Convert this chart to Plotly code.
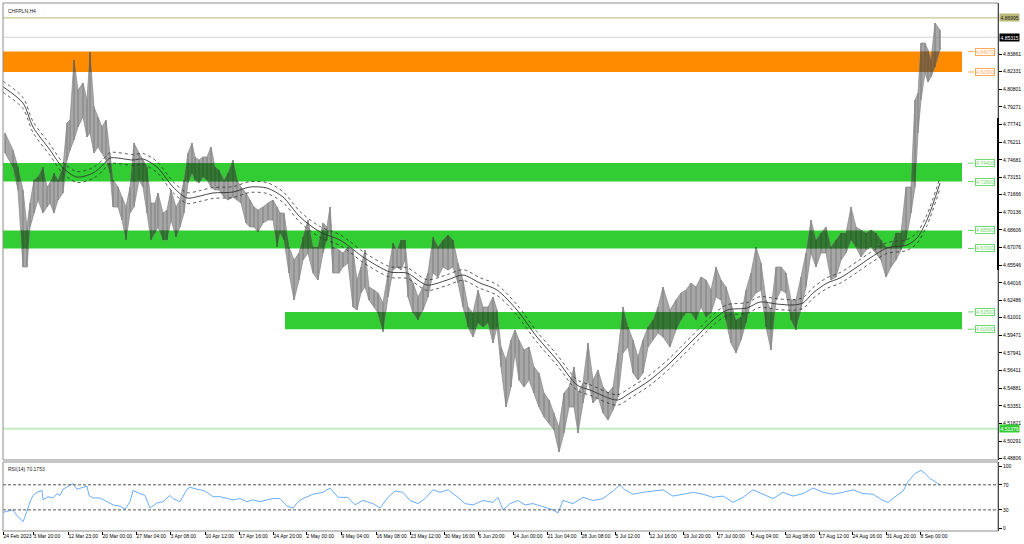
import plotly.graph_objects as go

# ---------------- DATA ----------------
symbol_title = "CHFPLN,H4"

# H4 bar index (approx. 1 bar per screen pixel) and high / low per sampled bar
bars = [2, 10, 15, 20, 24, 27, 31, 35, 40, 44,
        47, 51, 55, 60, 64, 67, 71, 75, 80, 84,
        87, 91, 95, 99, 103, 107, 110, 115, 119, 123,
        127, 131, 136, 140, 144, 148, 152, 155, 160, 164,
        168, 173, 177, 181, 185, 189, 192, 196, 200, 204,
        208, 212, 216, 221, 225, 230, 234, 238, 243, 247,
        251, 255, 260, 265, 270, 274, 277, 281, 286, 291,
        296, 300, 305, 310, 315, 320, 324, 327, 330, 336,
        340, 345, 350, 354, 358, 362, 366, 371, 375, 380,
        385, 390, 394, 398, 402, 405, 410, 415, 420, 425,
        430, 435, 440, 445, 450, 455, 460, 465, 470, 475,
        480, 485, 490, 494, 498, 503, 508, 512, 516, 521,
        526, 531, 536, 541, 546, 551, 556, 561, 566, 571,
        575, 580, 585, 590, 595, 600, 605, 610, 615, 620,
        625, 630, 635, 640, 645, 650, 655, 660, 667, 673,
        678, 683, 688, 693, 698, 703, 708, 713, 718, 723,
        728, 733, 738, 743, 748, 753, 758, 763, 768, 773,
        778, 783, 788, 793, 798, 803, 808, 813, 818, 823,
        828, 833, 838, 843, 848, 853, 858, 863, 868, 873,
        878, 883, 888, 893, 898, 903, 908, 912, 915, 918,
        922, 925, 928, 932, 937]

highs = [4.7701, 4.7554, 4.7406, 4.7207, 4.6886, 4.7094, 4.7293, 4.7319, 4.7406, 4.7233,
         4.7267, 4.7354, 4.7293, 4.7406, 4.7788, 4.7814, 4.8334, 4.8074, 4.8134, 4.7987,
         4.8403, 4.7926, 4.7840, 4.7753, 4.7814, 4.7528, 4.7293, 4.7233, 4.7146, 4.7059,
         4.7233, 4.7614, 4.7528, 4.7467, 4.7406, 4.7094, 4.7094, 4.7181, 4.7007, 4.7033,
         4.7207, 4.7059, 4.7120, 4.7293, 4.7528, 4.7614, 4.7493, 4.7467, 4.7493, 4.7493,
         4.7580, 4.7406, 4.7380, 4.7293, 4.7354, 4.7467, 4.7293, 4.7233, 4.7181, 4.7120,
         4.7059, 4.7033, 4.7059, 4.7094, 4.7120, 4.7059, 4.7007, 4.7007, 4.6713, 4.6600,
         4.6661, 4.6799, 4.6947, 4.6713, 4.6713, 4.6921, 4.6886, 4.7059, 4.6713, 4.6687,
         4.6661, 4.6713, 4.6687, 4.6426, 4.6539, 4.6687, 4.6366, 4.6340, 4.6314, 4.6227,
         4.6487, 4.6747, 4.6687, 4.6773, 4.6773, 4.6487, 4.6400, 4.6279, 4.6366, 4.6487,
         4.6799, 4.6713, 4.6773, 4.6817, 4.6773, 4.6574, 4.6426, 4.6192, 4.6140, 4.6340,
         4.6192, 4.6192, 4.6279, 4.6166, 4.5846, 4.5733, 4.5906, 4.5993, 4.5906, 4.5819,
         4.5846, 4.5672, 4.5620, 4.5447, 4.5386, 4.5273, 4.5152, 4.5447, 4.5499, 4.5672,
         4.5447, 4.5533, 4.5880, 4.5559, 4.5646, 4.5499, 4.5447, 4.5499, 4.5794, 4.6192,
         4.6019, 4.5906, 4.5759, 4.5906, 4.6019, 4.6080, 4.6192, 4.6366, 4.6166, 4.6253,
         4.6314, 4.6340, 4.6400, 4.6366, 4.6452, 4.6426, 4.6340, 4.6539, 4.6426, 4.6366,
         4.6227, 4.6080, 4.6106, 4.6340, 4.6487, 4.6713, 4.6574, 4.6253, 4.6166, 4.6539,
         4.6539, 4.6487, 4.6253, 4.6253, 4.6452, 4.6661, 4.6947, 4.6773, 4.6834, 4.6886,
         4.6713, 4.6773, 4.6834, 4.6834, 4.7059, 4.6886, 4.6860, 4.6834, 4.6860, 4.6834,
         4.6773, 4.6713, 4.6713, 4.6834, 4.6834, 4.7233, 4.7233, 4.7987, 4.8048, 4.8481,
         4.8481, 4.8420, 4.8334, 4.8655, 4.8594]

lows = [4.7528, 4.7406, 4.7207, 4.6539, 4.6539, 4.6886, 4.7007, 4.7120, 4.7007, 4.7059,
        4.7094, 4.7007, 4.7120, 4.7181, 4.7467, 4.7554, 4.7640, 4.7753, 4.7840, 4.7666,
        4.7701, 4.7528, 4.7580, 4.7528, 4.7467, 4.7354, 4.7059, 4.7059, 4.6947, 4.6773,
        4.7007, 4.7059, 4.7293, 4.7233, 4.7007, 4.6773, 4.6834, 4.6886, 4.6773, 4.6773,
        4.6947, 4.6799, 4.6886, 4.7007, 4.7267, 4.7354, 4.7293, 4.7267, 4.7319, 4.7293,
        4.7233, 4.7207, 4.7207, 4.7146, 4.7120, 4.7146, 4.7120, 4.7094, 4.6921, 4.6886,
        4.6886, 4.6843, 4.6921, 4.6947, 4.6947, 4.6713, 4.6834, 4.6773, 4.6487, 4.6253,
        4.6426, 4.6600, 4.6661, 4.6487, 4.6426, 4.6661, 4.6773, 4.6886, 4.6487, 4.6487,
        4.6539, 4.6574, 4.6192, 4.6166, 4.6314, 4.6366, 4.6253, 4.6192, 4.6140, 4.5976,
        4.6279, 4.6513, 4.6539, 4.6513, 4.6600, 4.6279, 4.6140, 4.6080, 4.6166, 4.6279,
        4.6487, 4.6452, 4.6539, 4.6513, 4.6539, 4.6400, 4.6192, 4.6019, 4.5932, 4.6054,
        4.6019, 4.6054, 4.5880, 4.6019, 4.5672, 4.5325, 4.5499, 4.5794, 4.5559, 4.5499,
        4.5559, 4.5447, 4.5325, 4.5239, 4.5187, 4.5126, 4.4935, 4.5100, 4.5325, 4.5325,
        4.5100, 4.5360, 4.5559, 4.5360, 4.5412, 4.5273, 4.5213, 4.5299, 4.5412, 4.5794,
        4.5846, 4.5620, 4.5559, 4.5620, 4.5846, 4.5906, 4.5967, 4.5932, 4.5846, 4.5993,
        4.6080, 4.6140, 4.6140, 4.6080, 4.6192, 4.6106, 4.6140, 4.6279, 4.6253, 4.6080,
        4.5880, 4.5794, 4.5906, 4.6054, 4.6253, 4.6314, 4.6340, 4.6019, 4.5819, 4.6253,
        4.6340, 4.6314, 4.6080, 4.5993, 4.6166, 4.6366, 4.6661, 4.6539, 4.6661, 4.6661,
        4.6426, 4.6452, 4.6600, 4.6661, 4.6773, 4.6713, 4.6626, 4.6687, 4.6713, 4.6661,
        4.6600, 4.6452, 4.6539, 4.6600, 4.6687, 4.6773, 4.7007, 4.7233, 4.7701, 4.7987,
        4.8221, 4.8143, 4.8186, 4.8273, 4.8420]

# Moving average (centre line) and envelope width in percent
ma_bars = [0, 20, 30, 47, 60, 74, 90, 100, 107, 130,
           140, 154, 170, 184, 197, 210, 230, 247, 264, 280,
           297, 317, 337, 347, 360, 387, 404, 424, 444, 460,
           477, 494, 514, 534, 554, 574, 587, 614, 627, 647,
           667, 677, 697, 710, 724, 744, 757, 774, 790, 800,
           810, 824, 837, 854, 867, 884, 904, 914, 924, 937]
ma_vals = [4.8102, 4.7961, 4.7753, 4.7554, 4.7398, 4.7319, 4.7354, 4.7424, 4.7484, 4.7467,
           4.7476, 4.7406, 4.7233, 4.7137, 4.7155, 4.7181, 4.7189, 4.7233, 4.7224, 4.7146,
           4.6973, 4.6843, 4.6773, 4.6713, 4.6626, 4.6496, 4.6487, 4.6383, 4.6426, 4.6470,
           4.6400, 4.6340, 4.6166, 4.5932, 4.5733, 4.5516, 4.5473, 4.5386, 4.5447, 4.5559,
           4.5707, 4.5794, 4.5967, 4.6080, 4.6166, 4.6184, 4.6236, 4.6218, 4.6210, 4.6227,
           4.6314, 4.6400, 4.6444, 4.6539, 4.6617, 4.6704, 4.6730, 4.6791, 4.6947, 4.7267]
envelope_pct = 0.1

# RSI(14)
rsi_bars = [0, 7, 10, 14, 20, 24, 27, 30, 34, 39,
            40, 45, 50, 54, 57, 60, 65, 70, 74, 79,
            84, 86, 90, 97, 104, 110, 117, 122, 127, 130,
            137, 142, 147, 154, 160, 167, 170, 177, 184, 187,
            194, 200, 204, 210, 217, 224, 230, 237, 244, 250,
            257, 264, 270, 277, 284, 290, 295,
            300, 310, 320, 327, 335, 345, 352, 360, 370, 377,
            385, 392, 400, 407, 415, 422, 430, 437, 445, 455,
            462, 470, 480, 490, 495, 500, 507, 515, 522, 530,
            540, 550, 555, 560, 570, 580, 590, 600, 610, 617,
            622, 630, 640, 650, 660, 670, 680, 690, 700, 710,
            720, 730, 740, 750, 760, 770, 780, 790, 800, 810,
            820, 830, 840, 850, 860, 870, 880, 885, 893, 900,
            905, 912, 918, 922, 927, 932, 937]
rsi_vals = [26, 28, 30, 21, 11, 28, 43, 53, 58, 61,
            46, 51, 49, 56, 53, 63, 68, 72, 63, 66,
            68, 53, 49, 49, 43, 38, 36, 31, 43, 61,
            56, 53, 33, 41, 43, 53, 48, 43, 63, 66,
            63, 61, 58, 51, 51, 48, 46, 48, 43, 46,
            43, 46, 48, 48, 36, 33, 43,
            48, 55, 58, 65, 50, 50, 38, 45, 40, 33,
            50, 60, 58, 45, 40, 48, 62, 58, 62, 50,
            40, 38, 45, 42, 50, 30, 40, 45, 38, 40,
            35, 30, 25, 45, 40, 50, 45, 48, 60, 70,
            62, 55, 58, 60, 62, 52, 55, 58, 55, 50,
            52, 42, 50, 62, 55, 48, 58, 52, 56, 65,
            58, 55, 58, 62, 56, 55, 45, 42, 52, 60,
            75, 88, 93, 88, 80, 75, 70]
rsi_last = 70.1753
rsi_levels = [70, 30]
rsi_ticks = [0, 30, 70, 100]

# Supply / demand zones
zone_upper = [4.84070, 4.74400, 4.68560, 4.61500]
zone_lower = [4.82300, 4.72800, 4.67000, 4.60000]
zone_start = [0, 0, 0, 282]
zone_end = 959
zone_kind = ["supply", "demand", "demand", "demand"]

# Horizontal levels
top_level = 4.86995
bid_price = 4.85315
bottom_level = 4.51379

price_ticks = [4.83861, 4.82331, 4.80801, 4.79271, 4.77741, 4.76211, 4.74681, 4.73151,
               4.71666, 4.70136, 4.68606, 4.67076, 4.65546, 4.64016, 4.62486, 4.61001,
               4.59471, 4.57941, 4.56411, 4.54881, 4.53351, 4.51821, 4.50291, 4.48806]

tick_labels = ["24 Feb 2023", "3 Mar 20:00", "12 Mar 23:00", "20 Mar 00:00", "27 Mar 04:00",
               "3 Apr 08:00", "10 Apr 12:00", "17 Apr 16:00", "24 Apr 20:00", "2 May 00:00",
               "9 May 04:00", "16 May 08:00", "23 May 12:00", "30 May 16:00", "6 Jun 20:00",
               "14 Jun 00:00", "21 Jun 04:00", "28 Jun 08:00", "5 Jul 12:00", "12 Jul 16:00",
               "19 Jul 20:00", "27 Jul 00:00", "3 Aug 04:00", "10 Aug 08:00", "17 Aug 12:00",
               "24 Aug 16:00", "31 Aug 20:00", "8 Sep 00:00"]
tick_bars = [0, 30, 65, 99, 133, 167, 202, 236, 270, 303,
             338, 373, 407, 441, 475, 510, 544, 578, 612, 646,
             680, 714, 748, 782, 816, 849, 883, 917]

# ---------------- STYLE ----------------
FONT = "Liberation Sans, Arial, sans-serif"
X_RANGE = [0, 995]
Y_RANGE = [4.48661, 4.88283]
RSI_RANGE = [-3.7, 106.4]
MAIN_DOM = [0.1345, 1.0]
RSI_DOM = [0.0, 0.1307]
zone_fill = {"supply": "#FF8C00", "demand": "#32CD32"}
zone_dark = {"supply": "#7a5a32", "demand": "#236b23"}
zone_dark_fill = {"supply": "rgba(122,90,50,0.75)", "demand": "rgba(35,107,35,0.75)"}
zone_text = {"supply": "#ffa95a", "demand": "#6fd96f"}
PRICE_COLOR = "#858585"
PRICE_FILL = "rgba(133,133,133,0.72)"

assert len(bars) == len(highs) == len(lows)
assert len(ma_bars) == len(ma_vals)
assert len(rsi_bars) == len(rsi_vals)

fig = go.Figure()

# price ribbon polygon (highs forward, lows backward) and per-bar vertical strokes
ribbon_x = list(bars) + list(reversed(bars))
ribbon_y = list(highs) + list(reversed(lows))
bar_x, bar_y = [], []
for b, h, l in zip(bars, highs, lows):
    bar_x += [b, b, None]
    bar_y += [l, h, None]

fig.add_trace(go.Scatter(x=ribbon_x + [ribbon_x[0]], y=ribbon_y + [ribbon_y[0]], mode="lines",
                         fill="toself", fillcolor=PRICE_FILL,
                         line=dict(color=PRICE_COLOR, width=0.7), hoverinfo="skip"))
fig.add_trace(go.Scatter(x=bar_x, y=bar_y, mode="lines",
                         line=dict(color=PRICE_COLOR, width=1.2), hoverinfo="skip"))


def clip_poly(pts, xmin, xmax, lo, hi):
    def inside(p, e):
        return [p[0] >= xmin, p[0] <= xmax, p[1] >= lo, p[1] <= hi][e]

    def cross(a, b, e):
        if e < 2:
            xv = xmin if e == 0 else xmax
            t = (xv - a[0]) / (b[0] - a[0])
        else:
            yv = lo if e == 2 else hi
            t = (yv - a[1]) / (b[1] - a[1])
        return (a[0] + t * (b[0] - a[0]), a[1] + t * (b[1] - a[1]))

    out = pts
    for e in range(4):
        inp, out = out, []
        if not inp:
            break
        prev = inp[-1]
        for cur in inp:
            if inside(cur, e):
                if not inside(prev, e):
                    out.append(cross(prev, cur, e))
                out.append(cur)
            elif inside(prev, e):
                out.append(cross(prev, cur, e))
            prev = cur
    return out


ribbon_pts = list(zip(ribbon_x, ribbon_y))
# darker price pieces where the price crosses the zones
for up, lo, st, kind in zip(zone_upper, zone_lower, zone_start, zone_kind):
    poly = clip_poly(ribbon_pts, st, zone_end, lo, up)
    if len(poly) > 2:
        fig.add_trace(go.Scatter(x=[p[0] for p in poly] + [poly[0][0]],
                                 y=[p[1] for p in poly] + [poly[0][1]], mode="lines",
                                 fill="toself", fillcolor=zone_dark_fill[kind],
                                 line=dict(width=0, color=zone_dark[kind]), hoverinfo="skip"))
    xs, ys = [], []
    for b, h, l in zip(bars, highs, lows):
        if b < st or b > zone_end:
            continue
        top, bot = min(h, up), max(l, lo)
        if top > bot:
            xs += [b, b, None]
            ys += [bot, top, None]
    fig.add_trace(go.Scatter(x=xs, y=ys, mode="lines",
                             line=dict(color=zone_dark[kind], width=1.2), hoverinfo="skip"))

# moving average and envelope
env_up = [v * (1 + envelope_pct / 100) for v in ma_vals]
env_dn = [v * (1 - envelope_pct / 100) for v in ma_vals]
fig.add_trace(go.Scatter(x=ma_bars, y=ma_vals, mode="lines",
                         line=dict(color="#333333", width=0.9, shape="spline", smoothing=0.8),
                         hoverinfo="skip"))
for env in (env_up, env_dn):
    fig.add_trace(go.Scatter(x=ma_bars, y=env, mode="lines",
                             line=dict(color="#333333", width=0.8, dash="dot",
                                       shape="spline", smoothing=0.8),
                             hoverinfo="skip"))

# RSI
fig.add_trace(go.Scatter(x=rsi_bars, y=rsi_vals, mode="lines", xaxis="x2", yaxis="y2",
                         line=dict(color="#6aaefc", width=1), hoverinfo="skip"))

shapes = []
for up, lo, st, kind in zip(zone_upper, zone_lower, zone_start, zone_kind):
    shapes.append(dict(type="rect", xref="x", yref="y", x0=st, x1=zone_end, y0=lo, y1=up,
                       fillcolor=zone_fill[kind], line=dict(width=0), layer="below"))
shapes.append(dict(type="line", xref="paper", yref="y", x0=0, x1=1, y0=top_level, y1=top_level,
                   line=dict(color="#b9b97a", width=1)))
shapes.append(dict(type="line", xref="paper", yref="y", x0=0, x1=1, y0=bid_price, y1=bid_price,
                   line=dict(color="#d3d3d3", width=1), layer="below"))
shapes.append(dict(type="line", xref="paper", yref="y", x0=0, x1=1, y0=bottom_level, y1=bottom_level,
                   line=dict(color="#c4ecc4", width=2), layer="below"))
for up, lo, kind in zip(zone_upper, zone_lower, zone_kind):
    for v in (up, lo):
        shapes.append(dict(type="line", xref="x", yref="y", x0=zone_end + 6, x1=zone_end + 12,
                           y0=v, y1=v, line=dict(color=zone_text[kind], width=1)))
for lv in rsi_levels:
    shapes.append(dict(type="line", xref="paper", yref="y2", x0=0, x1=1, y0=lv, y1=lv,
                       line=dict(color="#555555", width=1, dash="3px,2px")))
for dom in (MAIN_DOM, RSI_DOM):
    shapes.append(dict(type="rect", xref="paper", yref="paper", x0=0, x1=1, y0=dom[0], y1=dom[1],
                       line=dict(color="#8c8c8c", width=1), fillcolor="rgba(0,0,0,0)"))
shapes.append(dict(type="line", xref="paper", yref="y", x0=1, x1=1, y0=4.6513, y1=4.7831,
                   line=dict(color="black", width=2)))

annotations = []
annotations.append(dict(text=symbol_title, xref="paper", yref="paper", x=0, y=1,
                        xanchor="left", yanchor="top", xshift=3, yshift=-3, showarrow=False,
                        font=dict(size=5, color="#222222", family=FONT)))
annotations.append(dict(text=f"RSI(14) {rsi_last:.4f}", xref="paper", yref="paper", x=0,
                        y=RSI_DOM[1], xanchor="left", yanchor="top", xshift=3, yshift=-2,
                        showarrow=False, font=dict(size=5, color="#222222", family=FONT)))
for up, lo, kind in zip(zone_upper, zone_lower, zone_kind):
    for v in (up, lo):
        annotations.append(dict(text=f"{v:.5f}", xref="x", yref="y", x=zone_end + 23, y=v,
                                xanchor="center", yanchor="middle", showarrow=False,
                                font=dict(size=5, color=zone_text[kind], family=FONT),
                                bgcolor="white", bordercolor=zone_text[kind], borderwidth=1,
                                borderpad=0))
for v, bg, fg in ((top_level, "#b9b97a", "#222222"), (bid_price, "black", "white"),
                  (bottom_level, "#32CD32", "white")):
    annotations.append(dict(text=f"{v:.5f}", xref="paper", yref="y", x=1, y=v,
                            xanchor="left", yanchor="middle", xshift=1, showarrow=False,
                            font=dict(size=5, color=fg, family=FONT), bgcolor=bg, borderpad=0.5))

fig.update_layout(
    width=1024, height=544,
    margin=dict(l=3, r=26, t=3, b=13, pad=0, autoexpand=False),
    paper_bgcolor="white", plot_bgcolor="white", showlegend=False,
    font=dict(family=FONT, size=5, color="black"),
    xaxis=dict(domain=[0, 1], range=X_RANGE, anchor="y", showticklabels=False, showgrid=False,
               zeroline=False, ticks="", automargin=False),
    yaxis=dict(domain=MAIN_DOM, range=Y_RANGE, side="right", anchor="x",
               tickvals=price_ticks, ticktext=[f"{v:.5f}" for v in price_ticks],
               ticks="outside", ticklen=3, tickcolor="black", showgrid=False, zeroline=False,
               showline=True, linecolor="black", linewidth=1, tickfont=dict(size=5),
               automargin=False),
    xaxis2=dict(domain=[0, 1], range=X_RANGE, anchor="y2", matches="x",
                tickvals=tick_bars, ticktext=tick_labels, ticklabelposition="outside right",
                tickangle=0, ticks="outside", ticklen=3, tickcolor="black", showgrid=False,
                zeroline=False, showline=False, tickfont=dict(size=5), automargin=False),
    yaxis2=dict(domain=RSI_DOM, range=RSI_RANGE, side="right", anchor="x2",
                tickvals=rsi_ticks, ticks="outside", ticklen=3, tickcolor="black",
                showgrid=False, zeroline=False, showline=True, linecolor="black", linewidth=1,
                tickfont=dict(size=5), automargin=False),
    shapes=shapes, annotations=annotations,
)

fig.write_html("out.html", config={"displayModeBar": False},
               post_script="document.body.style.margin='0';document.body.style.padding='0';")
